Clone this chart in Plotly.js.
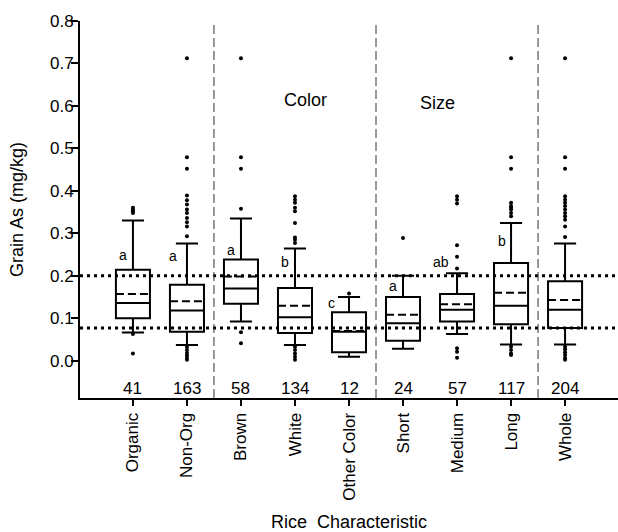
<!DOCTYPE html>
<html>
<head>
<meta charset="utf-8">
<script src="https://cdn.plot.ly/plotly-3.0.1.min.js"></script>
<style>html,body{margin:0;padding:0;background:#fff;}</style>
</head>
<body>
<div id="chart" style="width:618px;height:532px;"></div>
<script>
// ---- Data ----
const categories = ["Organic", "Non-Org", "Brown", "White", "Other Color", "Short", "Medium", "Long", "Whole"];
const counts     = [41, 163, 58, 134, 12, 24, 57, 117, 204];
const lowerWhisker = [0.066, 0.037, 0.092, 0.037, 0.009, 0.028, 0.063, 0.038, 0.038];
const q1Values     = [0.100, 0.068, 0.134, 0.065, 0.020, 0.047, 0.092, 0.086, 0.077];
const medianValues = [0.136, 0.118, 0.170, 0.102, 0.068, 0.088, 0.120, 0.129, 0.120];
const meanValues   = [0.157, 0.140, 0.198, 0.129, 0.070, 0.108, 0.133, 0.160, 0.143];
const q3Values     = [0.214, 0.179, 0.238, 0.171, 0.114, 0.150, 0.157, 0.230, 0.187];
const upperWhisker = [0.330, 0.276, 0.335, 0.264, 0.150, 0.200, 0.206, 0.324, 0.276];

const outliersOrganic = [0.360, 0.356, 0.352, 0.348, 0.063, 0.017];
const outliersNonOrg  = [0.712, 0.479, 0.452, 0.389, 0.378, 0.368, 0.356, 0.348, 0.336, 0.326, 0.316, 0.293, 0.032, 0.025, 0.018, 0.012, 0.006, 0.002];
const outliersBrown   = [0.712, 0.479, 0.452, 0.358, 0.067, 0.041];
const outliersWhite   = [0.387, 0.379, 0.372, 0.360, 0.352, 0.324, 0.290, 0.285, 0.277, 0.033, 0.025, 0.017, 0.009, 0.002];
const outliersOther   = [0.158];
const outliersShort   = [0.289];
const outliersMedium  = [0.387, 0.379, 0.370, 0.272, 0.245, 0.217, 0.029, 0.021, 0.007];
const outliersLong    = [0.712, 0.479, 0.452, 0.372, 0.364, 0.360, 0.356, 0.348, 0.340, 0.033, 0.025, 0.017, 0.013];
const outliersWhole   = [0.712, 0.479, 0.452, 0.387, 0.379, 0.372, 0.364, 0.356, 0.348, 0.340, 0.332, 0.316, 0.291, 0.033, 0.027, 0.020, 0.013, 0.006, 0.002];

const groupLetters = ["a", "a", "a", "b", "c", "a", "ab", "b"];
const letterY      = [0.250, 0.246, 0.261, 0.232, 0.136, 0.176, 0.232, 0.281];
const letterShift  = [-0.18, -0.25, -0.19, -0.19, -0.32, -0.19, -0.30, -0.17];

const referenceLines = [0.2, 0.077];
const separators = [1.5, 4.5, 7.5];
const sectionLabels = ["Color", "Size"];
const sectionX = [3.19, 5.64];
const sectionY = [0.613, 0.608];
const countY = -0.065;
const yTicks = [0, 0.1, 0.2, 0.3, 0.4, 0.5, 0.6, 0.7, 0.8];

// ---- Build ----
const idx = categories.map((_, i) => i);
const FONT = "Liberation Sans, Arial, sans-serif";

const boxTrace = {
  type: "box",
  x: idx,
  q1: q1Values, median: medianValues, q3: q3Values,
  lowerfence: lowerWhisker, upperfence: upperWhisker, mean: meanValues,
  boxmean: true, boxpoints: false,
  width: 0.63, whiskerwidth: 0.65,
  line: {color: "black", width: 2},
  fillcolor: "white",
  hoverinfo: "skip",
  showlegend: false
};

const outlierGroups = [outliersOrganic, outliersNonOrg, outliersBrown, outliersWhite, outliersOther,
                       outliersShort, outliersMedium, outliersLong, outliersWhole];
const ox = [], oy = [];
outlierGroups.forEach((g, i) => g.forEach(v => { ox.push(i); oy.push(v); }));
const outlierTrace = {
  type: "scatter", mode: "markers", x: ox, y: oy,
  marker: {color: "black", size: 4},
  hoverinfo: "skip", showlegend: false
};

const shapes = [];
referenceLines.forEach(v => shapes.push({
  type: "line", xref: "paper", yref: "y", x0: 0, x1: 1, y0: v, y1: v,
  line: {color: "black", width: 3, dash: "3px,4px"}, layer: "above"
}));
separators.forEach(s => shapes.push({
  type: "line", xref: "x", yref: "y", x0: s, x1: s, y0: -0.088, y1: 0.797,
  line: {color: "#333", width: 1, dash: "9px,4px"}, layer: "above"
}));

const annotations = [];
groupLetters.forEach((t, i) => annotations.push({
  x: i + letterShift[i], y: letterY[i], xref: "x", yref: "y", text: t,
  showarrow: false, font: {family: FONT, size: 14, color: "black"}
}));
counts.forEach((c, i) => annotations.push({
  x: i, y: countY, xref: "x", yref: "y", text: String(c),
  showarrow: false, font: {family: FONT, size: 17, color: "black"}
}));
sectionLabels.forEach((t, i) => annotations.push({
  x: sectionX[i], y: sectionY[i], xref: "x", yref: "y", text: t,
  showarrow: false, font: {family: FONT, size: 18, color: "black"}
}));

const layout = {
  width: 618, height: 532,
  margin: {l: 80, r: 0, t: 21, b: 134},
  paper_bgcolor: "white", plot_bgcolor: "white",
  font: {family: FONT, color: "black"},
  showlegend: false,
  xaxis: {
    range: [-0.98, 8.98],
    tickmode: "array", tickvals: idx, ticktext: categories,
    tickangle: -90, tickfont: {size: 17},
    ticks: "outside", ticklen: 6, tickwidth: 2, tickcolor: "black",
    showline: true, linewidth: 2, linecolor: "black",
    showgrid: false, zeroline: false,
    title: {text: "Rice  Characteristic", font: {size: 18}, standoff: 17}
  },
  yaxis: {
    range: [-0.088, 0.8],
    tickmode: "array", tickvals: yTicks, tickformat: ".1f",
    tickfont: {size: 17}, ticklabelposition: "outside", ticklabelstandoff: -6,
    ticks: "outside", ticklen: 7, tickwidth: 2, tickcolor: "black",
    showline: true, linewidth: 2, linecolor: "black",
    showgrid: false, zeroline: false,
    title: {text: "Grain As (mg/kg)", font: {size: 18}, standoff: 22}
  },
  shapes: shapes,
  annotations: annotations
};

Plotly.newPlot("chart", [boxTrace, outlierTrace], layout, {staticPlot: true, displayModeBar: false})
  .then(gd => {
    // longer dashes for the mean line, as in the reference
    gd.querySelectorAll("path.mean").forEach(p => p.style.strokeDasharray = "8px,4px");
  });
</script>
</body>
</html>
